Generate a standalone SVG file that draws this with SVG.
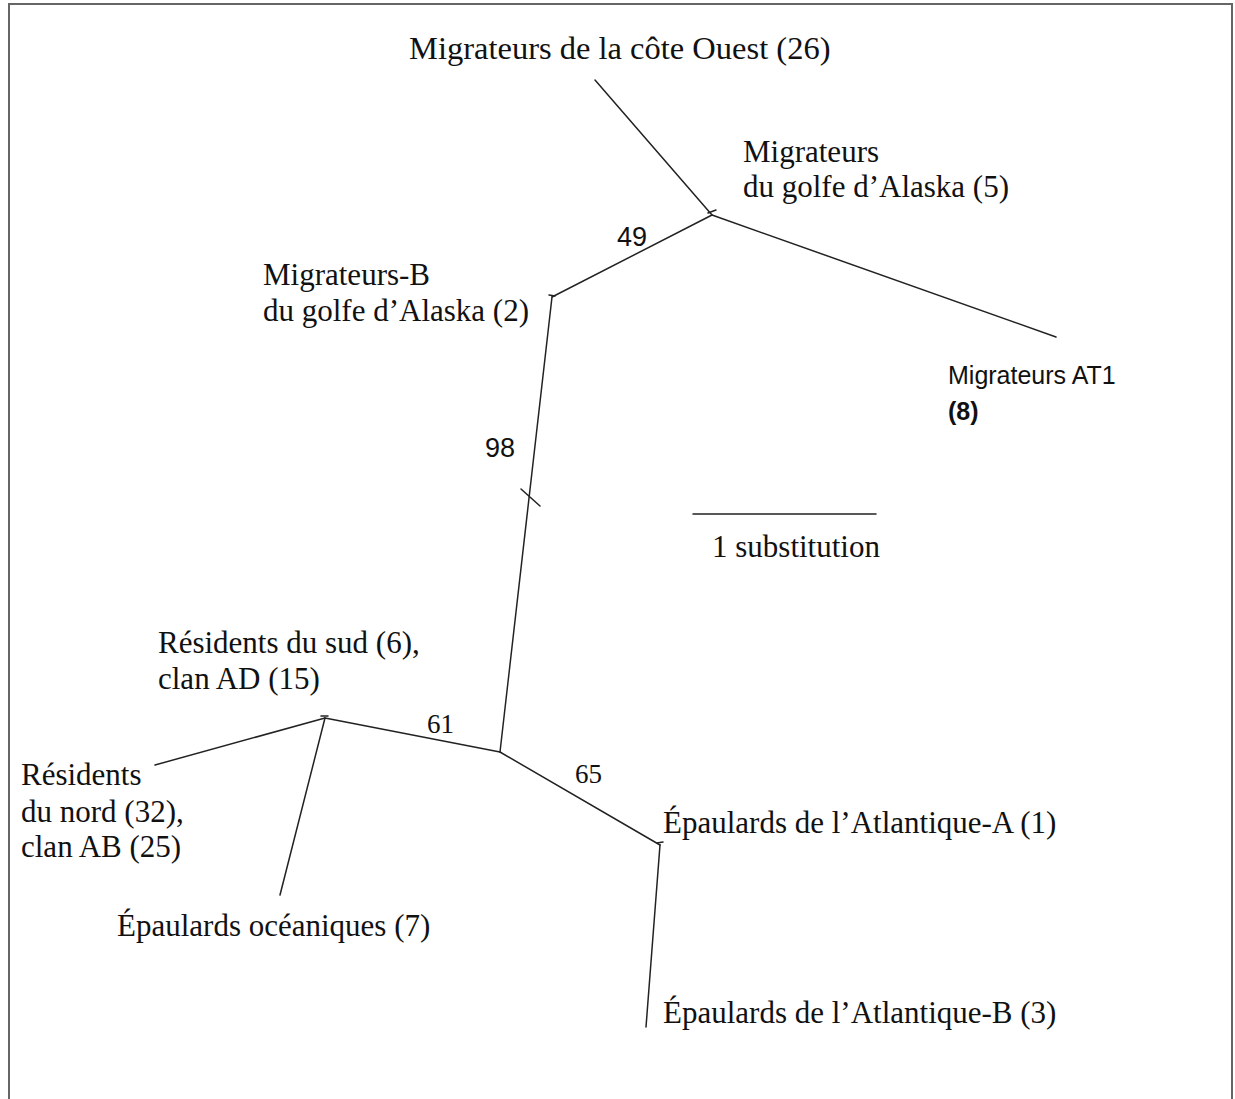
<svg xmlns="http://www.w3.org/2000/svg" width="1235" height="1099" viewBox="0 0 1235 1099">
<style>
.t{font-family:"Liberation Serif","Times New Roman",serif;font-size:31px;fill:#111}
.s{font-family:"Liberation Sans",Arial,sans-serif;font-size:25px;fill:#111}
.b{font-family:"Liberation Sans",Arial,sans-serif;font-size:27px;fill:#111}
.n{font-family:"Liberation Serif","Times New Roman",serif;font-size:27px;fill:#111}
.e{stroke:#222;stroke-width:1.5;fill:none;stroke-linecap:round}
</style>
<rect x="0" y="0" width="1235" height="1099" fill="#fff"/>
<path d="M9 1099 V4 H1232 V1099" fill="none" stroke="#666" stroke-width="2"/>
<g id="connectors">
<line class="e" x1="595" y1="80" x2="712" y2="215"/>
<line class="e" x1="712" y1="215" x2="1056" y2="337"/>
<line class="e" x1="712" y1="215" x2="552" y2="297"/>
<line class="e" x1="552" y1="297" x2="500" y2="752"/>
<line class="e" x1="521" y1="489" x2="540" y2="506"/>
<line class="e" x1="500" y1="752" x2="325" y2="718"/>
<line class="e" x1="325" y1="718" x2="155" y2="765"/>
<line class="e" x1="325" y1="718" x2="280" y2="895"/>
<line class="e" x1="500" y1="752" x2="660" y2="845"/>
<line class="e" x1="660" y1="845" x2="646" y2="1027"/>
<line class="e" x1="708" y1="213" x2="716" y2="210"/>
<line class="e" x1="549" y1="295" x2="555" y2="296"/>
<line class="e" x1="321" y1="716" x2="328" y2="716"/>
<line class="e" x1="657" y1="843" x2="663" y2="842"/>
</g>
<g id="node-west-coast"><text class="t" x="409" y="59" style="font-size:32.5px">Migrateurs de la côte Ouest (26)</text></g>
<g id="node-gulf-alaska"><text class="t" x="743" y="162">Migrateurs</text><text class="t" x="743" y="197">du golfe d’Alaska (5)</text></g>
<g id="node-gulf-alaska-b"><text class="t" x="263" y="285">Migrateurs-B</text><text class="t" x="263" y="321">du golfe d’Alaska (2)</text></g>
<g id="node-at1"><text class="s" x="948" y="384">Migrateurs AT1</text><text class="s" x="948" y="420" font-weight="bold">(8)</text></g>
<g id="node-south-res"><text class="t" x="158" y="653">Résidents du sud (6),</text><text class="t" x="158" y="689">clan AD (15)</text></g>
<g id="node-north-res"><text class="t" x="21" y="785">Résidents</text><text class="t" x="21" y="822">du nord (32),</text><text class="t" x="21" y="857">clan AB (25)</text></g>
<g id="node-offshore"><text class="t" x="117" y="936">Épaulards océaniques (7)</text></g>
<g id="node-atl-a"><text class="t" x="663" y="833">Épaulards de l’Atlantique-A (1)</text></g>
<g id="node-atl-b"><text class="t" x="663" y="1023">Épaulards de l’Atlantique-B (3)</text></g>
<g id="scale"><line class="e" x1="693" y1="514" x2="876" y2="514"/><text class="t" x="712" y="557">1 substitution</text></g>
<g id="bootstrap">
<text class="b" x="617" y="246">49</text>
<text class="b" x="485" y="457">98</text>
<text class="n" x="427" y="733">61</text>
<text class="n" x="575" y="783">65</text>
</g>
</svg>
